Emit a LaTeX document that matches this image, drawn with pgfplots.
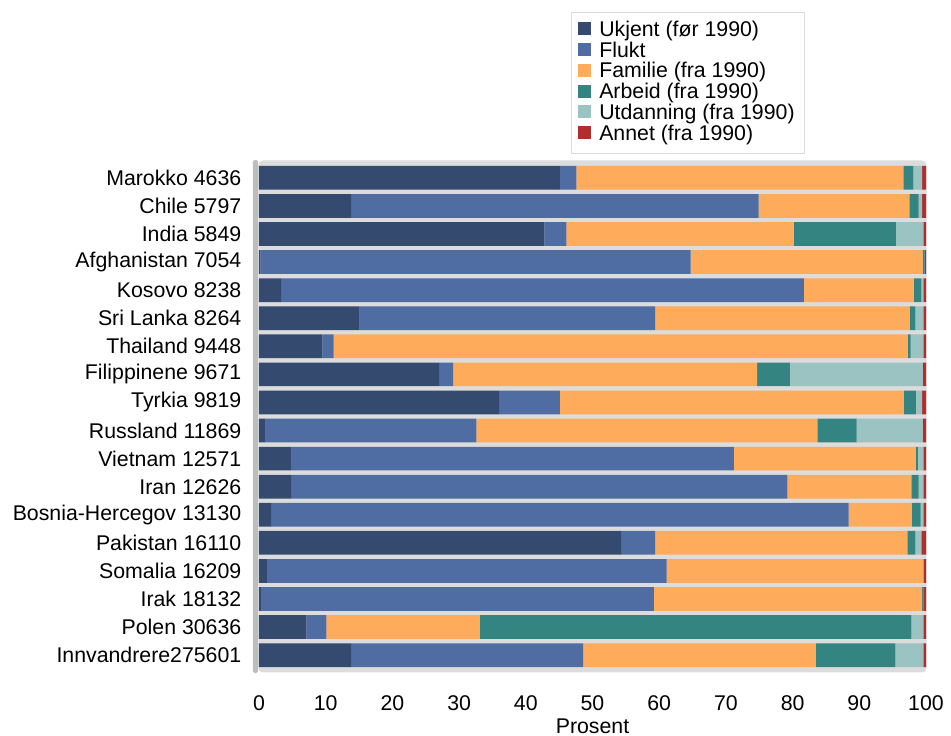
\documentclass[border=0pt]{standalone}
\usepackage{fontspec}
\setmainfont{Liberation Sans}
\usepackage{pgfplots}
\usepackage{pgfplotstable}
\pgfplotsset{compat=1.18}
\definecolor{cUk}{HTML}{344A6E}
\definecolor{cFl}{HTML}{4F6CA3}
\definecolor{cFa}{HTML}{FFAB5C}
\definecolor{cAr}{HTML}{348582}
\definecolor{cUt}{HTML}{9AC3C2}
\definecolor{cAn}{HTML}{B22E2E}
\definecolor{cBg}{HTML}{DCDCDC}
\definecolor{cEdge}{HTML}{BDBDBD}
\pgfplotstableread{
y uk fl fa ar ut an
17 45.1 2.5 49.0 1.5 1.3 0.6
16 13.8 61.1 22.6 1.4 0.5 0.6
15 42.8 3.3 34.1 15.3 4.1 0.4
14 0.2 64.5 34.8 0.3 0.0 0.2
13 3.3 78.4 16.5 1.1 0.3 0.4
12 15.1 44.3 38.2 0.8 1.2 0.4
11 9.5 1.7 86.1 0.4 1.9 0.4
10 27.0 2.1 45.6 4.9 19.9 0.5
9 36.0 9.1 51.6 1.8 0.9 0.6
8 1.0 31.6 51.1 5.9 9.9 0.5
7 4.9 66.3 27.3 0.3 0.8 0.4
6 4.8 74.4 18.6 1.1 0.7 0.4
5 1.8 86.6 9.5 1.3 0.4 0.4
4 54.3 5.1 37.8 1.2 0.9 0.7
3 1.2 59.9 38.5 0.1 0.0 0.3
2 0.4 58.8 40.2 0.2 0.0 0.4
1 7.1 3.0 23.0 64.7 1.8 0.4
0 13.8 34.8 34.9 11.9 4.2 0.4
}\data
\pgfplotsset{sq/.style={legend image code/.code={\fill[##1,draw=none] (0pt,-4pt) rectangle (13pt,9pt); \path (18pt,0pt);}}}
\begin{document}
\begin{tikzpicture}[x=1pt,y=1pt]
\useasboundingbox (-259,-64) rectangle (692,672);
\begin{axis}[
  at={(0,0)}, anchor=south west,
  scale only axis, width=667pt, height=511pt,
  xbar stacked, bar width=23.7pt,
  xmin=0, xmax=100, ymin=-0.6, ymax=17.6,
  ytick={0,...,17},
  yticklabels={Innvandrere275601, Polen 30636, Irak 18132, Somalia 16209, Pakistan 16110, Bosnia-Hercegov 13130, Iran 12626, Vietnam 12571, Russland 11869, Tyrkia 9819, Filippinene 9671, Thailand 9448, Sri Lanka 8264, Kosovo 8238, Afghanistan 7054, India 5849, Chile 5797, Marokko 4636},
  xtick={0,10,...,100},
  major tick length=0pt,
  /pgf/number format/assume math mode=true,
  ticklabel style={font=\fontsize{21.3}{25}\selectfont, inner sep=0pt},
  y tick label style={anchor=east, xshift=-17.5pt},
  x tick label style={anchor=north, yshift=-23pt},
  xlabel={Prosent},
  every axis x label/.style={at={(axis description cs:0.5,0)}, anchor=north, yshift=-47pt, inner sep=0pt, font=\fontsize{21.3}{25}\selectfont},
  axis background/.style={fill=cBg, rounded corners=4pt},
  axis line style={draw=cBg, line width=1pt, rounded corners=4pt},
  legend cell align=left,
  legend style={at={(rel axis cs:0.4678,1.2916)}, anchor=north west, xshift=-0.5pt, draw=cBg, line width=1.5pt, fill=white,
    font=\fontsize{21.3}{23}\selectfont, inner xsep=7pt, inner ysep=8pt, row sep=0pt,
    nodes={text height=15.5pt, text depth=5.3pt, inner ysep=0pt, inner xsep=3pt, line width=0.4pt}},
  after end axis/.code={\fill[cEdge, rounded corners=2pt] ([xshift=-6pt,yshift=-1pt]rel axis cs:0,0) rectangle ([xshift=-1pt,yshift=1pt]rel axis cs:0,1);},
]
\addplot[fill=cUk, draw=none, sq] table[x=uk, y=y]{\data};
\addplot[fill=cFl, draw=none, sq] table[x=fl, y=y]{\data};
\addplot[fill=cFa, draw=none, sq] table[x=fa, y=y]{\data};
\addplot[fill=cAr, draw=none, sq] table[x=ar, y=y]{\data};
\addplot[fill=cUt, draw=none, sq] table[x=ut, y=y]{\data};
\addplot[fill=cAn, draw=none, sq] table[x=an, y=y]{\data};
\legend{Ukjent (før 1990), Flukt, Familie (fra 1990), Arbeid (fra 1990), Utdanning (fra 1990), Annet (fra 1990)}
\end{axis}
\end{tikzpicture}
\end{document}
